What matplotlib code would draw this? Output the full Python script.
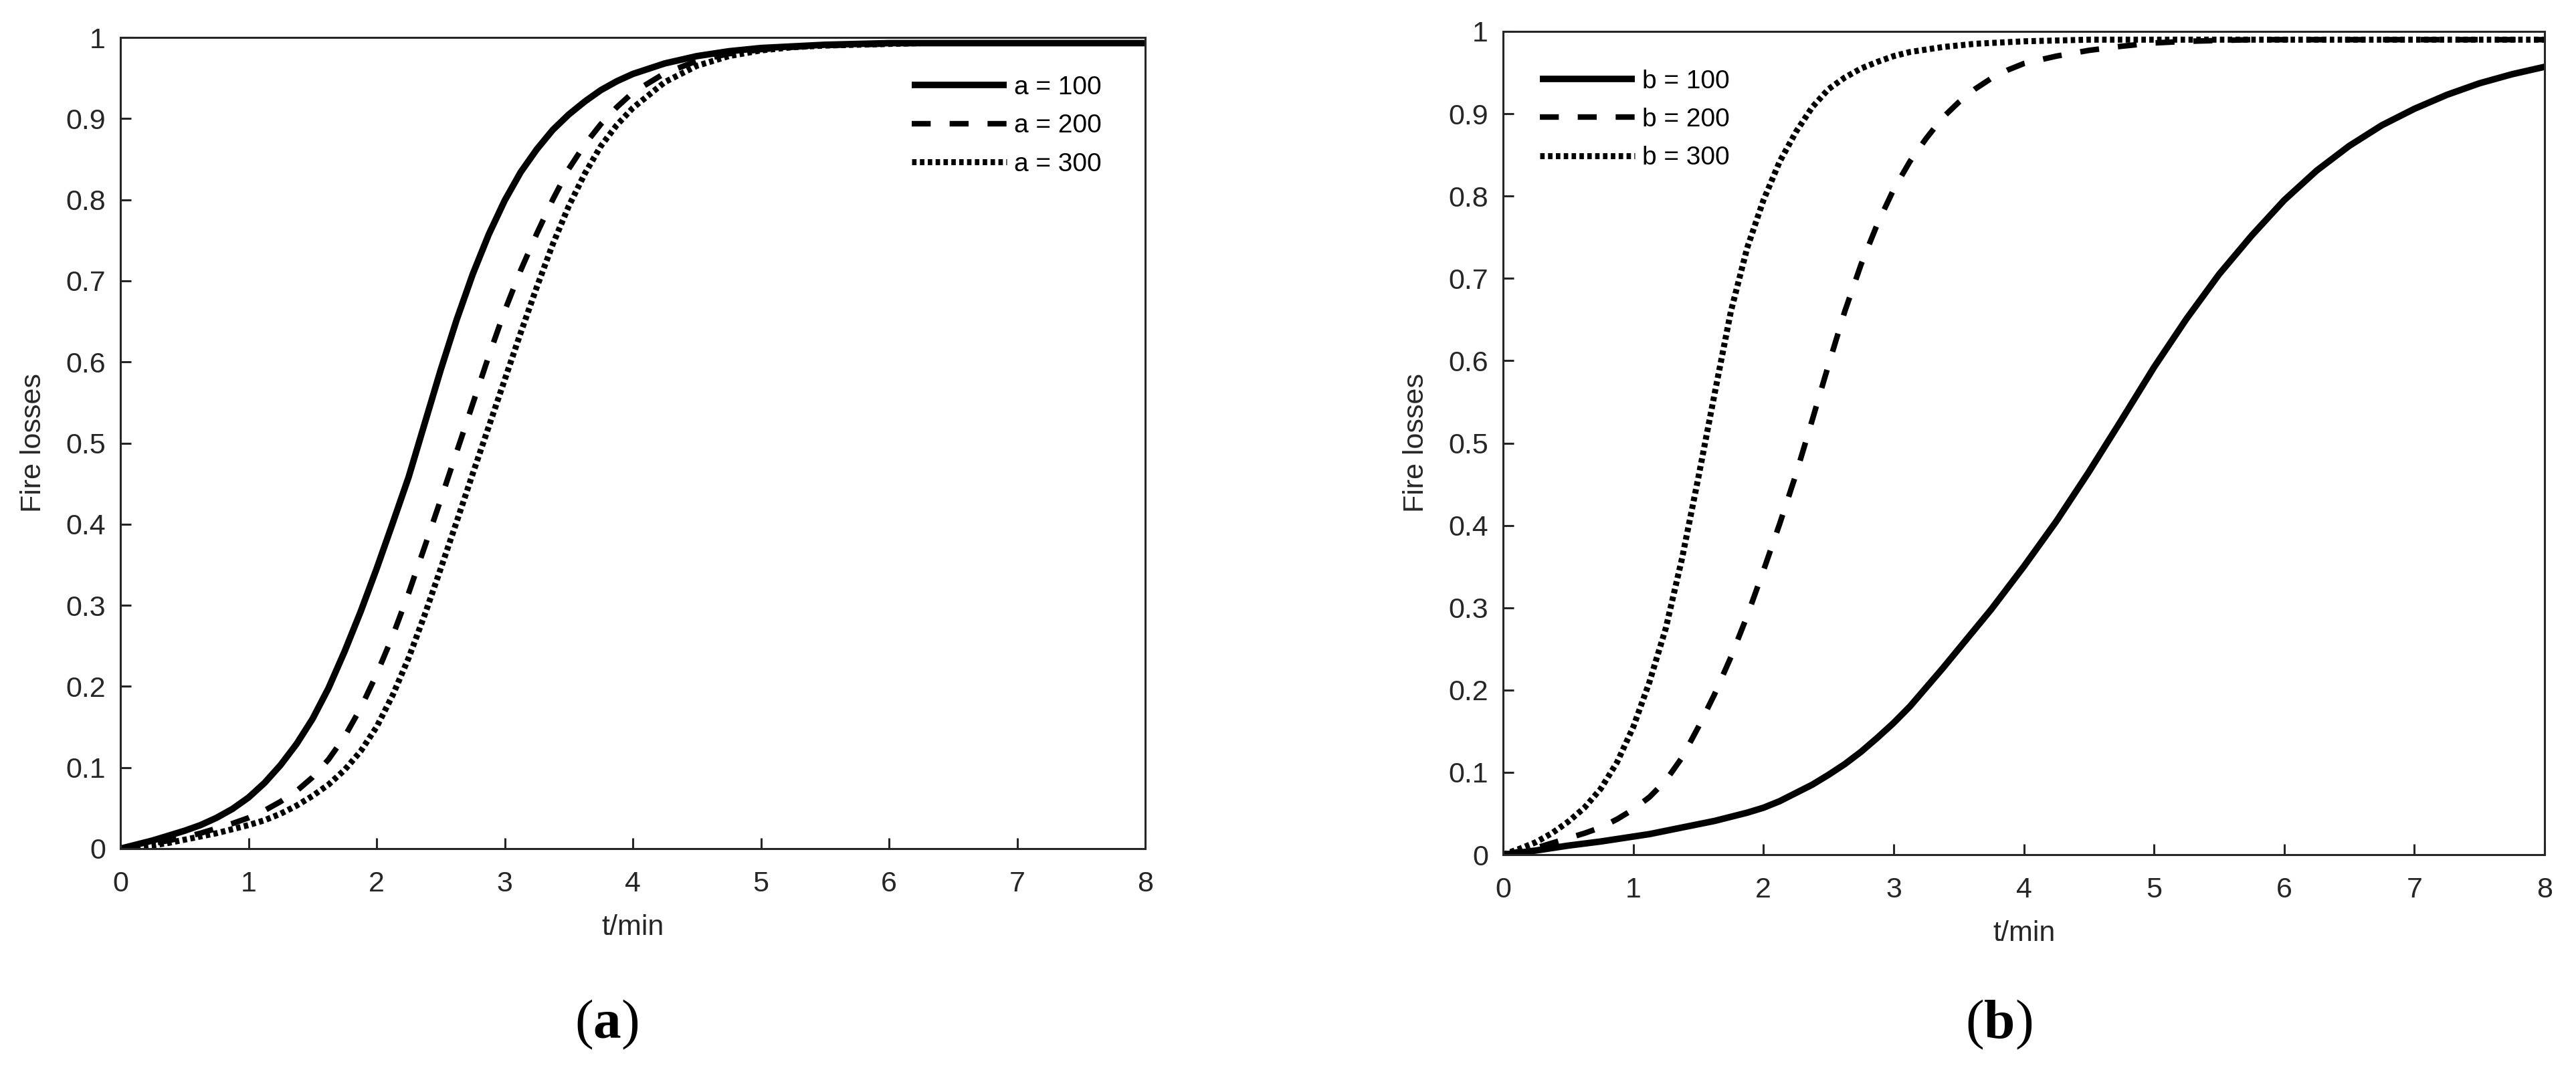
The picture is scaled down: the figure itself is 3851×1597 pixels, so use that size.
import matplotlib
matplotlib.use("Agg")
import matplotlib.pyplot as plt

plt.rcParams['font.family'] = ['Liberation Sans', 'DejaVu Sans']
plt.rcParams['mathtext.fontset'] = 'custom'
plt.rcParams['mathtext.rm'] = 'Liberation Serif'
plt.rcParams['mathtext.bf'] = 'Liberation Serif:bold'

# ---------------- data ----------------
t = [0, 0.125, 0.25, 0.375, 0.5, 0.625, 0.75, 0.875, 1, 1.125, 1.25, 1.375, 1.5, 1.625, 1.75, 1.875,
     2, 2.125, 2.25, 2.375, 2.5, 2.625, 2.75, 2.875, 3, 3.125, 3.25, 3.375, 3.5, 3.625, 3.75, 3.875,
     4, 4.25, 4.5, 4.75, 5, 5.25, 5.5, 5.75, 6, 6.25, 6.5, 6.75, 7, 7.25, 7.5, 7.75, 8]

loss_a100 = [0, .005, .010, .016, .022, .029, .038, .049, .063, .081, .103, .129, .160, .198, .243, .292,
             .345, .401, .458, .524, .590, .652, .708, .757, .799, .834, .862, .886, .905, .921, .935, .946,
             .955, .968, .977, .983, .987, .989, .991, .992, .993, .993, .993, .993, .993, .993, .993, .993, .993]
loss_a200 = [0, .003, .006, .010, .014, .019, .025, .031, .038, .047, .058, .071, .088, .110, .138, .173,
             .215, .262, .315, .372, .430, .489, .548, .607, .663, .713, .758, .800, .838, .868, .893, .914,
             .932, .956, .971, .980, .985, .988, .990, .991, .992, .993, .993, .993, .993, .993, .993, .993, .993]
loss_a300 = [0, .002, .004, .007, .011, .015, .019, .024, .029, .035, .043, .053, .065, .079, .097, .120,
             .150, .189, .235, .288, .345, .403, .462, .520, .578, .636, .692, .745, .792, .832, .866, .892,
             .913, .945, .965, .977, .984, .988, .990, .991, .992, .993, .993, .993, .993, .993, .993, .993, .993]

loss_b100 = [0, .0025, .005, .008, .011, .0135, .016, .019, .022, .025, .029, .033, .037, .041, .046, .051,
             .057, .065, .075, .085, .097, .110, .125, .142, .160, .180, .203, .226, .250, .274, .298, .324,
             .350, .405, .465, .528, .592, .651, .705, .752, .795, .831, .861, .886, .906, .923, .937, .948, .957]
loss_b200 = [0, .004, .008, .014, .020, .026, .033, .043, .055, .070, .090, .118, .155, .195, .240, .290,
             .345, .402, .462, .528, .595, .660, .717, .766, .808, .842, .870, .895, .914, .930, .943, .953,
             .961, .970, .977, .982, .986, .988, .989, .990, .990, .990, .990, .990, .990, .990, .990, .990, .990]
loss_b300 = [0, .007, .015, .026, .040, .057, .080, .112, .155, .210, .275, .360, .458, .560, .660, .737,
             .795, .842, .878, .908, .930, .944, .955, .963, .970, .975, .978, .981, .983, .985, .986, .987,
             .988, .989, .990, .990, .990, .990, .990, .990, .990, .990, .990, .990, .990, .990, .990, .990, .990]

labels_a = ['a = 100', 'a = 200', 'a = 300']
labels_b = ['b = 100', 'b = 200', 'b = 300']
xticks = [0, 1, 2, 3, 4, 5, 6, 7, 8]
yticks = [0, 0.1, 0.2, 0.3, 0.4, 0.5, 0.6, 0.7, 0.8, 0.9, 1]
ytick_labels = ['0', '0.1', '0.2', '0.3', '0.4', '0.5', '0.6', '0.7', '0.8', '0.9', '1']
xlabel = 't/min'
ylabel = 'Fire losses'
captions = ['a', 'b']

# ---------------- styling ----------------
W, H = 3851, 1597
fig = plt.figure(figsize=(W / 100, H / 100), dpi=100)
axA = fig.add_axes([180 / W, 1 - 1269 / H, 1532 / W, 1213 / H])
axB = fig.add_axes([2247 / W, 1 - 1278 / H, 1557 / W, 1231 / H])

gray = '#262626'
styles = [
    dict(color='black', lw=7.0, linestyle='-', solid_capstyle='butt', solid_joinstyle='round'),
    dict(color='black', lw=6.0, linestyle=(0, (3.4, 3.4)), dash_capstyle='butt'),
    dict(color='black', lw=6.5, linestyle=(0, (0.74, 0.56)), dash_capstyle='butt'),
]

def style_axes(ax):
    ax.set_xlim(0, 8)
    ax.set_ylim(0, 1)
    ax.set_xticks(xticks)
    ax.set_xticklabels([str(v) for v in xticks])
    ax.set_yticks(yticks)
    ax.set_yticklabels(ytick_labels)
    ax.tick_params(axis='both', direction='in', length=11.5, width=2.2, color=gray,
                   labelsize=31, labelcolor=gray, top=False, right=False)
    ax.tick_params(axis='x', pad=24)
    ax.tick_params(axis='y', pad=16)
    for s in ax.spines.values():
        s.set_linewidth(2.2)
        s.set_color(gray)
    ax.set_xlabel(xlabel, fontsize=31, color=gray, labelpad=18)
    ax.set_ylabel(ylabel, fontsize=31, color=gray, labelpad=20)

series_a = [loss_a100, loss_a200, loss_a300]
series_b = [loss_b100, loss_b200, loss_b300]
for ys, lab, st in zip(series_a, labels_a, styles):
    axA.plot(t, ys, label=lab, **st)
for ys, lab, st in zip(series_b, labels_b, styles):
    axB.plot(t, ys, label=lab, **st)

style_axes(axA)
style_axes(axB)

leg_kw = dict(frameon=False, fontsize=28, handlelength=3.65, handletextpad=0.28,
              labelspacing=0.55, borderpad=0, borderaxespad=0, loc='upper left')
axA.legend(bbox_to_anchor=(0.772, 0.953), **leg_kw)
axB.legend(bbox_to_anchor=(0.0353, 0.954), **leg_kw)

fig.text(907 / W, 1 - 1532 / H, r'($\mathbf{%s}$)' % captions[0], family='Liberation Serif',
         fontsize=60, ha='center', va='center')
fig.text(2988 / W, 1 - 1532 / H, r'($\mathbf{%s}$)' % captions[1], family='Liberation Serif',
         fontsize=60, ha='center', va='center')

fig.savefig('out.png', dpi=100, facecolor='white')
